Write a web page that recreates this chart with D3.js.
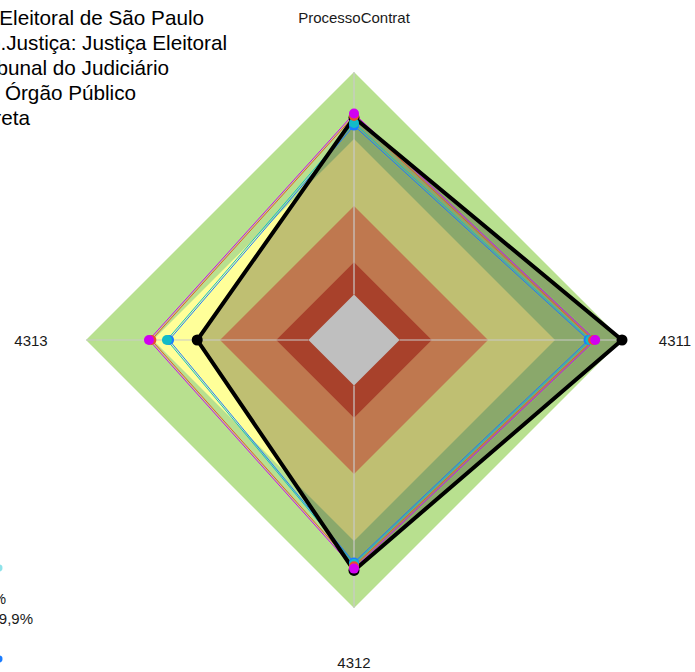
<!DOCTYPE html>
<html>
<head>
<meta charset="utf-8">
<script src="https://cdn.jsdelivr.net/npm/d3@7"></script>
<style>
  html, body { margin: 0; padding: 0; background: #ffffff; }
  svg { display: block; font-family: "Liberation Sans", Arial, sans-serif; }
</style>
</head>
<body>
<svg id="chart" width="695" height="672"></svg>
<script>
// Radar axes (clockwise from the top)
const axes = ["ProcessoContrat", "4311", "4312", "4313"];

// Background performance bands (upper bound of each band, % of max)
const bandBreaks = [100, 75, 50, 29, 17];

// Series values, one per axis, in % of max
const seriesNames = ["Média geral", "Série A", "Série B", "Série C", "Série D"];
const valuesFocus = [83, 100, 86, 58.5];
const valuesA = [80, 87.5, 83, 69];
const valuesB = [81, 88.2, 83.6, 69.8];
const valuesC = [83.6, 89.2, 84.4, 75.6];
const valuesD = [84.5, 90, 85.3, 76.5];

// Descriptive header lines
const headerLines = [
  "Órgão: Tribunal Regional Eleitoral de São Paulo",
  "Ramo.Justiça: Justiça Eleitoral",
  "Tipo: Tribunal do Judiciário",
  "Natureza: Órgão Público",
  "Administração Direta"
];
const footerLines = ["Faixa 75%", "Faixa 99,9%"];

// ---- styles ----
const bandColors = ["#b8e08f", "#ffff99", "#ffa06a", "#e1573a", "#ffffff"];
const seriesColors = ["#000000", "#1a7cff", "#12bcc8", "#e8502a", "#d100f0"];

const cx = 354, cy = 340, R = 268;
const svg = d3.select("#chart");

const r = d3.scaleLinear().domain([0, 100]).range([0, R]);
const angle = d3.scaleLinear().domain([0, axes.length]).range([0, 2 * Math.PI]);

const radial = d3.lineRadial()
  .angle((d, i) => angle(i))
  .radius(d => r(d))
  .curve(d3.curveLinearClosed);

const pt = (v, i) => {
  const a = angle(i);
  return [cx + r(v) * Math.sin(a), cy - r(v) * Math.cos(a)];
};

const g = svg.append("g").attr("transform", `translate(${cx},${cy})`);

// bands
g.selectAll("path.band")
  .data(bandBreaks)
  .join("path")
  .attr("class", "band")
  .attr("d", b => radial(axes.map(() => b)))
  .attr("fill", (b, i) => bandColors[i]);

// axis spokes
svg.append("g").selectAll("line")
  .data(axes)
  .join("line")
  .attr("x1", (d, i) => pt(bandBreaks[4], i)[0])
  .attr("y1", (d, i) => pt(bandBreaks[4], i)[1])
  .attr("x2", (d, i) => pt(100, i)[0])
  .attr("y2", (d, i) => pt(100, i)[1])
  .attr("stroke", "#c9c9c9")
  .attr("stroke-width", 1.2);

const series = [valuesFocus, valuesA, valuesB, valuesC, valuesD];

// shaded area of the focus series
g.append("path")
  .attr("d", radial(valuesFocus))
  .attr("fill", "rgba(0,0,0,0.25)")
  .attr("stroke", "none");

// thin comparison outlines
g.selectAll("path.series")
  .data(series.slice(1))
  .join("path")
  .attr("class", "series")
  .attr("d", d => radial(d))
  .attr("fill", "none")
  .attr("stroke", (d, i) => seriesColors[i + 1])
  .attr("stroke-width", 1);

// focus outline
g.append("path")
  .attr("d", radial(valuesFocus))
  .attr("fill", "none")
  .attr("stroke", seriesColors[0])
  .attr("stroke-width", 4)
  .attr("stroke-linejoin", "miter");

// vertex points
series.forEach((vals, s) => {
  svg.append("g").selectAll("circle")
    .data(vals)
    .join("circle")
    .attr("cx", (v, i) => pt(v, i)[0])
    .attr("cy", (v, i) => pt(v, i)[1])
    .attr("r", s === 0 ? 5.5 : 5)
    .attr("fill", seriesColors[s]);
});

// axis labels
const labelPos = [[354, 23], [675, 346], [354, 668], [31, 346]];
svg.append("g").selectAll("text")
  .data(axes)
  .join("text")
  .attr("x", (d, i) => labelPos[i][0])
  .attr("y", (d, i) => labelPos[i][1])
  .attr("text-anchor", "middle")
  .attr("font-size", 15)
  .attr("fill", "#1a1a1a")
  .text(d => d);

// header text (runs off the left edge)
const headerEnds = [204, 227, 169, 136, 30];
svg.append("g").selectAll("text")
  .data(headerLines)
  .join("text")
  .attr("x", (d, i) => headerEnds[i])
  .attr("y", (d, i) => 25 + i * 25)
  .attr("text-anchor", "end")
  .attr("font-size", 20.7)
  .attr("fill", "#000")
  .text(d => d);

// footer legend (runs off the left edge)
const footerEnds = [6, 33];
svg.append("g").selectAll("text")
  .data(footerLines)
  .join("text")
  .attr("x", (d, i) => footerEnds[i])
  .attr("y", (d, i) => 604 + i * 20)
  .attr("text-anchor", "end")
  .attr("font-size", 15)
  .attr("fill", "#1a1a1a")
  .text(d => d);

svg.append("circle").attr("cx", -1).attr("cy", 568).attr("r", 3.5).attr("fill", "#8fe3ea");
svg.append("circle").attr("cx", -1).attr("cy", 659).attr("r", 3.5).attr("fill", seriesColors[1]);
</script>
</body>
</html>
